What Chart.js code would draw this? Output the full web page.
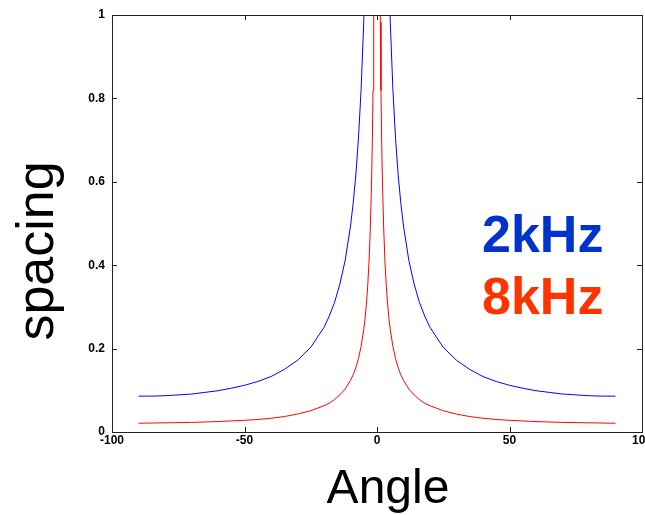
<!DOCTYPE html>
<html>
<head>
<meta charset="utf-8">
<script src="https://cdn.jsdelivr.net/npm/chart.js@4.4.1/dist/chart.umd.min.js"></script>
<style>
  body { margin: 0; background: #fff; }
  #wrap { width: 645px; height: 515px; }
</style>
</head>
<body>
<div id="wrap"><canvas id="chart" width="645" height="515"></canvas></div>
<script>
  // angle in degrees, spacing
  const blueAngles = [-90, -85, -80, -75, -70, -65, -60, -55, -50, -45, -40, -35, -30, -25, -20, -18, -16, -14, -12, -10, -9, -8, -7, -6, -5, -4.5, -4,
    4, 4.5, 5, 6, 7, 8, 9, 10, 12, 14, 16, 18, 20, 25, 30, 35, 40, 45, 50, 55, 60, 65, 70, 75, 80, 85, 90];
  const blueSpacing = [0.086, 0.086, 0.087, 0.089, 0.091, 0.095, 0.099, 0.105, 0.112, 0.121, 0.133, 0.150, 0.172, 0.203, 0.251, 0.278, 0.311, 0.355, 0.412, 0.494, 0.548, 0.616, 0.704, 0.821, 0.984, 1.093, 1.229,
    1.229, 1.093, 0.984, 0.821, 0.704, 0.616, 0.548, 0.494, 0.412, 0.355, 0.311, 0.278, 0.251, 0.203, 0.172, 0.150, 0.133, 0.121, 0.112, 0.105, 0.099, 0.095, 0.091, 0.089, 0.087, 0.086, 0.086];

  const redAngles = [-90, -80, -70, -60, -50, -45, -40, -35, -30, -25, -20, -18, -16, -14, -12, -10, -9, -8, -7, -6, -5, -4.5, -4, -3.5, -3, -2.5, -2, -1.75, -1.5, -1.25, -1,
    1, 1.25, 1.5, 1.75, 2, 2.5, 3, 3.5, 4, 4.5, 5, 6, 7, 8, 9, 10, 12, 14, 16, 18, 20, 25, 30, 35, 40, 45, 50, 60, 70, 80, 90];
  const redSpacing = [0.021, 0.022, 0.023, 0.025, 0.028, 0.030, 0.033, 0.037, 0.043, 0.051, 0.063, 0.069, 0.078, 0.089, 0.103, 0.124, 0.137, 0.154, 0.176, 0.205, 0.246, 0.273, 0.307, 0.351, 0.410, 0.492, 0.614, 0.702, 0.819, 0.983, 1.229,
    1.229, 0.983, 0.819, 0.702, 0.614, 0.492, 0.410, 0.351, 0.307, 0.273, 0.246, 0.205, 0.176, 0.154, 0.137, 0.124, 0.103, 0.089, 0.078, 0.069, 0.063, 0.051, 0.043, 0.037, 0.033, 0.030, 0.028, 0.025, 0.023, 0.022, 0.021];

  const xTicks = [-100, -50, 0, 50, 100];
  const yTicks = [0, 0.2, 0.4, 0.6, 0.8, 1];
  const seriesLabels = ["2kHz", "8kHz"];

  const FONT = "'Liberation Sans', Arial, Helvetica, sans-serif";

  const toPoints = (xs, ys) => xs.map((x, i) => ({ x, y: ys[i] }));

  const framePlugin = {
    id: "frame",
    afterDraw(chart) {
      const { ctx, chartArea: a, scales } = chart;
      ctx.save();
      ctx.strokeStyle = "#222";
      ctx.lineWidth = 1;
      ctx.beginPath();
      xTicks.forEach(v => {
        const px = Math.round(scales.x.getPixelForValue(v)) + 0.5;
        ctx.moveTo(px, a.bottom); ctx.lineTo(px, a.bottom - 5);
        ctx.moveTo(px, a.top); ctx.lineTo(px, a.top + 5);
      });
      yTicks.forEach(v => {
        const py = Math.round(scales.y.getPixelForValue(v)) + 0.5;
        ctx.moveTo(a.left, py); ctx.lineTo(a.left + 5, py);
        ctx.moveTo(a.right, py); ctx.lineTo(a.right - 5, py);
      });
      ctx.stroke();
      ctx.strokeRect(Math.round(a.left) + 0.5, Math.round(a.top) + 0.5, Math.round(a.right - a.left), Math.round(a.bottom - a.top));

      // axis titles
      ctx.fillStyle = "#000";
      ctx.font = "48px " + FONT;
      ctx.textAlign = "center";
      ctx.textBaseline = "alphabetic";
      ctx.fillText("Angle", 388, 503);
      ctx.save();
      ctx.translate(53, 251);
      ctx.rotate(-Math.PI / 2);
      ctx.font = "52px " + FONT;
      ctx.fillText("spacing", 0, 0);
      ctx.restore();

      // series labels
      ctx.font = "bold 52px " + FONT;
      ctx.textAlign = "left";
      ctx.fillStyle = "#0033cc";
      ctx.fillText(seriesLabels[0], a.left + 370, a.top + 237);
      ctx.fillStyle = "#ff3300";
      ctx.fillText(seriesLabels[1], a.left + 370, a.top + 299);
      ctx.restore();
    }
  };

  new Chart(document.getElementById("chart"), {
    type: "line",
    data: {
      datasets: [
        { label: seriesLabels[0], data: toPoints(blueAngles, blueSpacing), borderColor: "#0000ff", borderWidth: 1, pointRadius: 0, tension: 0, clip: 0 },
        { label: seriesLabels[1], data: toPoints(redAngles, redSpacing), borderColor: "#ff0000", borderWidth: 1, pointRadius: 0, tension: 0, clip: 0 }
      ]
    },
    options: {
      responsive: false,
      animation: false,
      layout: { padding: { left: 0, right: 3, top: 15, bottom: 0 } },
      plugins: { legend: { display: false }, tooltip: { enabled: false } },
      scales: {
        x: {
          type: "linear", min: -100, max: 100,
          afterBuildTicks: s => { s.ticks = xTicks.map(value => ({ value })); },
          afterFit: s => { s.height = 83; s.paddingLeft = 0; s.paddingRight = 0; },
          grid: { display: false, drawTicks: false },
          border: { display: false },
          ticks: { maxRotation: 0, autoSkip: false, padding: 1, color: "#000", font: { family: FONT, size: 12, weight: "bold" } }
        },
        y: {
          min: 0, max: 1,
          afterBuildTicks: s => { s.ticks = yTicks.map(value => ({ value })); },
          afterFit: s => { s.width = 112; s.paddingTop = 0; s.paddingBottom = 0; },
          grid: { display: false, drawTicks: false },
          border: { display: false },
          ticks: { padding: 7, color: "#000", font: { family: FONT, size: 12, weight: "bold" }, callback: v => String(Math.round(v * 10) / 10) }
        }
      }
    },
    plugins: [framePlugin]
  });
</script>
</body>
</html>
